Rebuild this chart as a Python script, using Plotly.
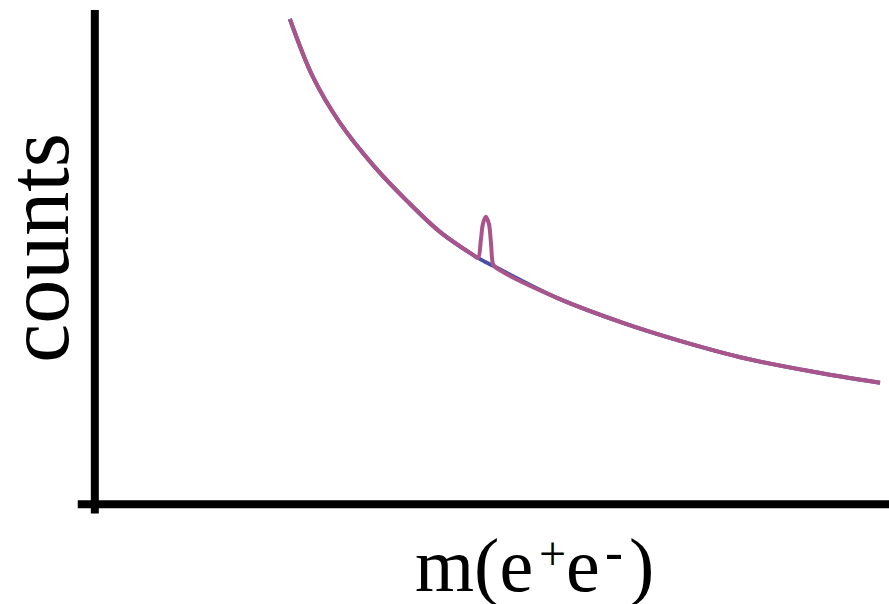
import plotly.graph_objects as go

# Smooth falling background in arbitrary units: invariant mass vs counts
mass_bkg = [2.456, 2.746, 3.086, 3.501, 3.929, 4.345, 4.761, 4.824, 4.924, 5.038,
            5.819, 6.650, 7.368, 8.212, 9.043, 9.887]
counts_bkg = [9.818, 8.645, 7.715, 6.866, 6.138, 5.511, 5.046, 4.985, 4.894, 4.803,
              4.176, 3.670, 3.306, 2.942, 2.679, 2.457]

# Background plus the narrow resonance peak
mass_tot = [2.456, 2.746, 3.086, 3.501, 3.929, 4.345, 4.761, 4.824,
            4.861, 4.887, 4.924, 4.962, 4.987, 5.013, 5.038,
            5.819, 6.650, 7.368, 8.212, 9.043, 9.887]
counts_tot = [9.818, 8.645, 7.715, 6.866, 6.138, 5.511, 5.046, 4.985,
              5.349, 5.672, 5.814, 5.672, 5.308, 4.864, 4.803,
              4.176, 3.670, 3.306, 2.942, 2.679, 2.457]

# x-axis title "m(e+e-)" set piece by piece so the charges sit just above the e's
x_label_parts = ["m(e", "+", "e", "-", ")"]
y_label = "counts"

purple = "#A9558B"
blue = "#4650A5"

fig = go.Figure()
fig.add_trace(go.Scatter(x=mass_bkg, y=counts_bkg, mode="lines",
                         line=dict(color=blue, width=4, shape="spline"),
                         hoverinfo="skip"))
fig.add_trace(go.Scatter(x=mass_tot, y=counts_tot, mode="lines",
                         line=dict(color=purple, width=4, shape="spline"),
                         hoverinfo="skip"))

# Thick hand-drawn style axes
fig.add_shape(type="line", xref="x", yref="y", x0=0, x1=0, y0=-0.19, y1=10,
              line=dict(color="black", width=8))
fig.add_shape(type="line", xref="x", yref="y", x0=-0.215, x1=10, y0=0, y1=0,
              line=dict(color="black", width=8))

serif = "Liberation Serif, Times New Roman, serif"

# (x in paper units, y in paper units, font size, x anchor)
part_layout = [
    (0.4179, -0.0905, 76, "left"),
    (0.5885, -0.0680, 48, "center"),
    (0.6026, -0.0905, 76, "left"),
    (0.6643, -0.0640, 54, "center"),
    (0.6796, -0.0905, 76, "left"),
]
for txt, (px, py, size, anchor) in zip(x_label_parts, part_layout):
    fig.add_annotation(text=txt, xref="paper", yref="paper", x=px, y=py,
                       showarrow=False, font=dict(family=serif, size=size, color="black"),
                       xanchor=anchor, yanchor="middle")

fig.add_annotation(text=y_label, xref="paper", yref="paper", x=-0.039, y=0.533,
                   showarrow=False, textangle=-90,
                   font=dict(family=serif, size=88, color="black"),
                   xanchor="center", yanchor="middle")

fig.update_xaxes(range=[-0.3, 10], visible=False)
fig.update_yaxes(range=[-0.3, 10], visible=False)
fig.update_layout(width=889, height=604, showlegend=False,
                  margin=dict(l=71.2, r=0, t=10, b=84.7),
                  plot_bgcolor="white", paper_bgcolor="white")

fig.write_html("out.html")
